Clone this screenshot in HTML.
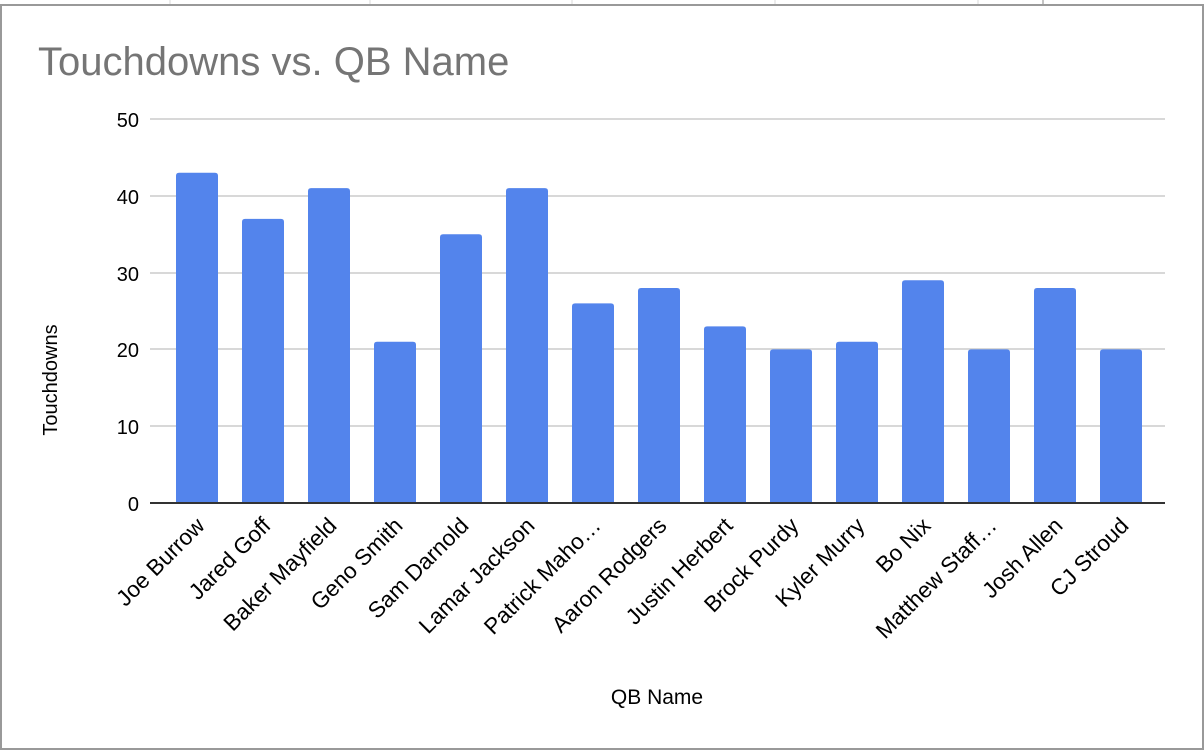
<!DOCTYPE html>
<html><head><style>body{margin:0;background:#fff}svg{display:block}</style></head>
<body>
<svg width="1204" height="750" xmlns="http://www.w3.org/2000/svg" font-family="Liberation Sans, Arial, sans-serif">
<rect width="1204" height="750" fill="#fff"/>
<g stroke="#d9d9d9" stroke-width="1">
<line x1="170" y1="0" x2="170" y2="4"/><line x1="370" y1="0" x2="370" y2="4"/><line x1="572" y1="0" x2="572" y2="4"/><line x1="775" y1="0" x2="775" y2="4"/><line x1="978" y1="0" x2="978" y2="4"/></g>
<line x1="1043" y1="0" x2="1043" y2="4" stroke="#888"/>
<rect x="1" y="5" width="1202" height="744" fill="none" stroke="#999" stroke-width="2"/>
<text x="38" y="75" font-size="40" fill="#757575">Touchdowns vs. QB Name</text>
<g stroke="#cccccc" stroke-width="1.5">
<line x1="150" y1="119" x2="1165" y2="119"/><line x1="150" y1="196" x2="1165" y2="196"/><line x1="150" y1="273" x2="1165" y2="273"/><line x1="150" y1="349" x2="1165" y2="349"/><line x1="150" y1="426" x2="1165" y2="426"/></g>
<g font-size="20" fill="#000" text-anchor="end">
<text x="139" y="127">50</text><text x="139" y="204">40</text><text x="139" y="281">30</text><text x="139" y="357">20</text><text x="139" y="434">10</text><text x="139" y="511">0</text></g>
<g fill="#5384ec" id="bars"></g>
<line x1="150" y1="503" x2="1165" y2="503" stroke="#333" stroke-width="2"/>
<g font-size="22.5" fill="#000" text-anchor="end" id="labels"></g>
<text transform="translate(57,380) rotate(-90)" font-size="20" text-anchor="middle">Touchdowns</text>
<text x="657" y="704" font-size="21" text-anchor="middle">QB Name</text>
<script>
var d=[["Joe Burrow",43],["Jared Goff",37],["Baker Mayfield",41],["Geno Smith",21],["Sam Darnold",35],["Lamar Jackson",41],["Patrick Maho…",26],["Aaron Rodgers",28],["Justin Herbert",23],["Brock Purdy",20],["Kyler Murry",21],["Bo Nix",29],["Matthew Staff…",20],["Josh Allen",28],["CJ Stroud",20]];
var ns="http://www.w3.org/2000/svg",b=document.getElementById("bars"),l=document.getElementById("labels");
d.forEach(function(e,i){var x=176+i*66,h=e[1]*7.68,y=503-h;
var p=document.createElementNS(ns,"path");
p.setAttribute("d","M"+x+",503V"+(y+3)+"Q"+x+","+y+" "+(x+3)+","+y+"H"+(x+39)+"Q"+(x+42)+","+y+" "+(x+42)+","+(y+3)+"V503Z");b.appendChild(p);
var t=document.createElementNS(ns,"text");var cx=x+21+9,cy=527;
t.setAttribute("transform","translate("+cx+","+cy+") rotate(-45)");t.textContent=e[0];l.appendChild(t);});
</script>
</svg>
</body></html>
